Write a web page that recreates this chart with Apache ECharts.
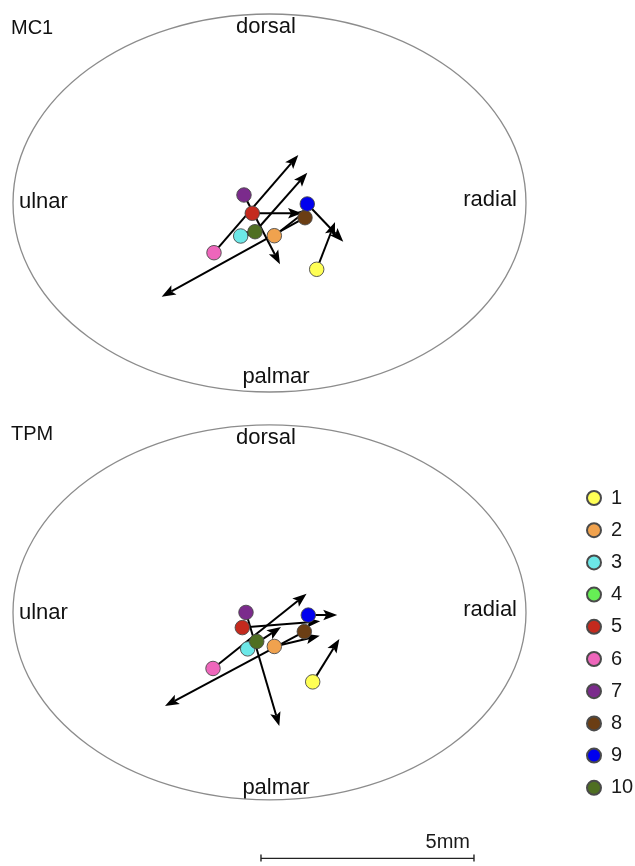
<!DOCTYPE html>
<html>
<head>
<meta charset="utf-8">
<script src="https://cdn.jsdelivr.net/npm/echarts@6/dist/echarts.min.js"></script>
<style>html,body{margin:0;padding:0;background:#fff;}#c{width:635px;height:866px;}</style>
</head>
<body>
<div id="c"></div>
<script>
// ---- data (mm, origin = centre of articular surface; x: +radial, y: +dorsal) ----
const specimens = ['1','2','3','4','5','6','7','8','9','10'];
const colors = ['#ffff55','#f0a24e','#6ce8e8','#66ee55','#c42a1e','#ee66bb','#7b2b8c','#6b3e14','#0000ee','#4f6f22'];

// MC1 panel: start points and arrow tips
const mc1X    = [1.108, 0.113, -0.676, null, -0.404, -1.303, -0.599, 0.833, 0.887, -0.340];
const mc1Y    = [-1.556, -0.768, -0.775, null, -0.242, -1.167, 0.188, -0.345, -0.023, -0.674];
const mc1TipX = [1.538, 0.951, -0.364, null, 0.763, 0.676, 0.246, -2.531, 1.732, 0.887];
const mc1TipY = [-0.446, -0.117, -0.669, null, -0.242, 1.127, -1.439, -2.200, -0.908, 0.711];

// TPM panel: start points and arrow tips
const tpmX    = [1.014, 0.113, -0.512, null, -0.638, -1.326, -0.552, 0.817, 0.911, -0.300];
const tpmY    = [-1.643, -0.805, -0.862, null, -0.359, -1.326, 0.000, -0.453, -0.063, -0.688];
const tpmTipX = [1.640, 1.180, 0.270, null, 1.190, 0.870, 0.230, -2.453, 1.590, null];
const tpmTipY = [-0.627, -0.550, -0.345, null, -0.211, 0.440, -2.690, -2.214, -0.059, null];

// articular surface outline (semi-axes, mm)
const surfaceRadii = [6.021, 4.437];
// scale bar (mm)
const scaleBarStart = [-0.2, -5.82];
const scaleBarLength = 5;
const scaleBarLabel = '5mm';

const panelNames = ['MC1', 'TPM'];
const directionLabels = ['dorsal', 'ulnar', 'radial', 'palmar'];

// ---- chart ----
const chart = echarts.init(document.getElementById('c'), null, {renderer: 'canvas'});
const PXMM = 42.6;

function ellipseItem(params, api) {
  const c = api.coord([api.value(0), api.value(1)]);
  const s = api.size([api.value(2), api.value(3)]);
  return {type: 'ellipse', shape: {cx: c[0], cy: c[1], rx: s[0], ry: s[1]},
          style: {fill: 'none', stroke: '#8c8c8c', lineWidth: 1.3}, silent: true};
}

function arrowItem(params, api) {
  const p0 = api.coord([api.value(0), api.value(1)]);
  const p1 = api.coord([api.value(2), api.value(3)]);
  const dx = p1[0] - p0[0], dy = p1[1] - p0[1];
  const L = Math.hypot(dx, dy) || 1;
  const ux = dx / L, uy = dy / L;
  const hl = 14, hw = 5.3, notch = 3;
  const bx = p1[0] - ux * hl, by = p1[1] - uy * hl;
  return {type: 'group', silent: true, children: [
    {type: 'line', shape: {x1: p0[0], y1: p0[1], x2: bx + ux * notch, y2: by + uy * notch},
     style: {stroke: '#000', lineWidth: 2}},
    {type: 'polygon', shape: {points: [
      [p1[0], p1[1]],
      [bx - uy * hw, by + ux * hw],
      [bx + ux * notch, by + uy * notch],
      [bx + uy * hw, by - ux * hw]
    ]}, style: {fill: '#000'}}
  ]};
}

function scaleBarItem(params, api) {
  const a = api.coord([api.value(0), api.value(1)]);
  const b = api.coord([api.value(0) + api.value(2), api.value(1)]);
  return {type: 'group', silent: true, children: [
    {type: 'line', shape: {x1: a[0], y1: a[1], x2: b[0], y2: b[1]}, style: {stroke: '#222', lineWidth: 1.4}},
    {type: 'line', shape: {x1: a[0], y1: a[1] - 4, x2: a[0], y2: a[1] + 3}, style: {stroke: '#222', lineWidth: 1.4}},
    {type: 'line', shape: {x1: b[0], y1: b[1] - 4, x2: b[0], y2: b[1] + 3}, style: {stroke: '#222', lineWidth: 1.4}},
    {type: 'text', x: b[0] - 4, y: a[1] - 16,
     style: {text: scaleBarLabel, fill: '#1a1a1a', font: '20px "Liberation Sans", Arial, sans-serif',
             align: 'right', verticalAlign: 'middle'}}
  ]};
}

const grids = [
  {left: 269.5 - 6.3 * PXMM, width: 12.6 * PXMM, top: 203 - 4.6 * PXMM, height: 9.2 * PXMM},
  {left: 269.5 - 6.3 * PXMM, width: 12.6 * PXMM, top: 614 - 4.6 * PXMM, height: 10.6 * PXMM}
];
const xAxes = grids.map((g, i) => ({type: 'value', gridIndex: i, min: -6.3, max: 6.3, show: false}));
const yAxes = [
  {type: 'value', gridIndex: 0, min: -4.6, max: 4.6, show: false},
  {type: 'value', gridIndex: 1, min: -6.0, max: 4.6, show: false}
];

const series = [];
[0, 1].forEach(g => {
  series.push({type: 'custom', name: 'surface' + g, xAxisIndex: g, yAxisIndex: g,
    renderItem: ellipseItem, data: [[0, 0, surfaceRadii[0], surfaceRadii[1]]], z: 1, silent: true});
});
series.push({type: 'custom', name: 'scalebar', xAxisIndex: 1, yAxisIndex: 1,
  renderItem: scaleBarItem, data: [[scaleBarStart[0], scaleBarStart[1], scaleBarLength]], z: 1, silent: true});

const panels = [
  {xs: mc1X, ys: mc1Y, tx: mc1TipX, ty: mc1TipY},
  {xs: tpmX, ys: tpmY, tx: tpmTipX, ty: tpmTipY}
];
specimens.forEach((name, i) => {
  panels.forEach((p, g) => {
    const arrowData = (p.xs[i] != null && p.tx[i] != null) ? [[p.xs[i], p.ys[i], p.tx[i], p.ty[i]]] : [];
    series.push({type: 'custom', name: 'arrow-' + name + '-' + g, xAxisIndex: g, yAxisIndex: g,
      renderItem: arrowItem, data: arrowData, z: 2, silent: true});
    const pointData = (p.xs[i] != null) ? [[p.xs[i], p.ys[i]]] : [];
    series.push({type: 'scatter', name: name, xAxisIndex: g, yAxisIndex: g, data: pointData,
      symbol: 'circle', symbolSize: 14.5, z: 2, silent: true,
      itemStyle: {color: colors[i], borderColor: '#4a4a4a', borderWidth: 0.9, opacity: 1}});
  });
});

const font = '"Liberation Sans", Arial, Helvetica, sans-serif';
function txt(text, x, y, align, size) {
  return {type: 'text', x: x, y: y, silent: true,
    style: {text: text, fill: '#111', font: size + 'px ' + font, align: align, verticalAlign: 'middle'}};
}
const graphics = [
  txt(panelNames[0], 11, 28, 'left', 20),
  txt(directionLabels[0], 266, 27, 'center', 22),
  txt(directionLabels[1], 19, 202, 'left', 22),
  txt(directionLabels[2], 517, 200, 'right', 22),
  txt(directionLabels[3], 276, 377, 'center', 22),
  txt(panelNames[1], 11, 434, 'left', 20),
  txt(directionLabels[0], 266, 438, 'center', 22),
  txt(directionLabels[1], 19, 613, 'left', 22),
  txt(directionLabels[2], 517, 610, 'right', 22),
  txt(directionLabels[3], 276, 788, 'center', 22)
];

chart.setOption({
  animation: false,
  backgroundColor: '#ffffff',
  grid: grids,
  xAxis: xAxes,
  yAxis: yAxes,
  legend: {
    data: specimens,
    orient: 'vertical',
    left: 586, top: 488,
    padding: 0,
    itemWidth: 14, itemHeight: 14, itemGap: 12.2,
    icon: 'circle',
    selectedMode: false,
    textStyle: {fontSize: 20, color: '#1a1a1a', fontFamily: font, padding: [0, 0, 0, 5]}
  },
  graphic: graphics,
  series: series
});
</script>
</body>
</html>
